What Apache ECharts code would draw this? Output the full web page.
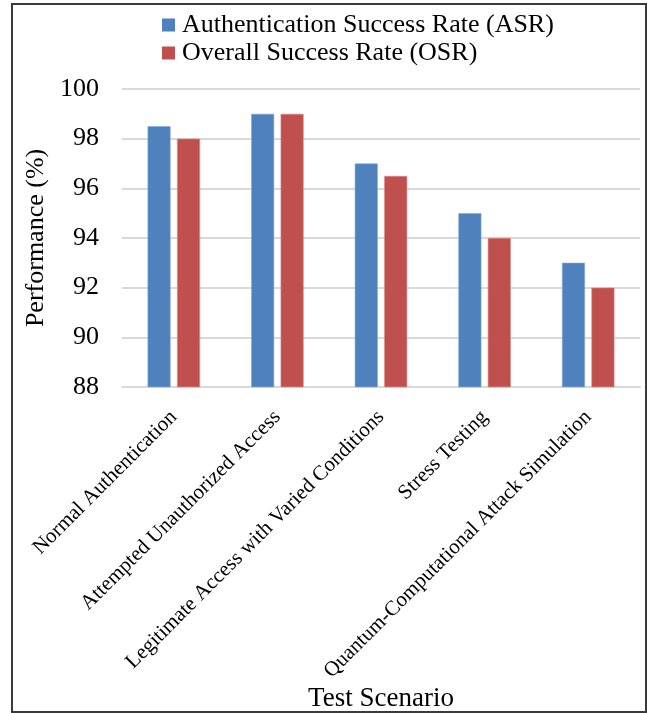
<!DOCTYPE html>
<html>
<head>
<meta charset="utf-8">
<script src="https://cdn.jsdelivr.net/npm/echarts@6/dist/echarts.min.js"></script>
<style>
  html, body { margin: 0; padding: 0; background: #fff; }
  #frame { position: absolute; left: 11px; top: 3px; width: 632px; height: 706px; border: 2px solid #3a3a3a; }
  #chart { position: absolute; left: 0; top: 0; width: 647px; height: 713px; }
</style>
</head>
<body>
<div id="frame"></div>
<div id="chart"></div>
<script>
// Test scenarios on the category axis
const categories = [
  'Normal Authentication',
  'Attempted Unauthorized Access',
  'Legitimate Access with Varied Conditions',
  'Stress Testing',
  'Quantum-Computational Attack Simulation'
];
// Success rates (%) per scenario
const asrValues = [98.5, 99, 97, 95, 93];
const osrValues = [98, 99, 96.5, 94, 92];
const seriesNames = ['Authentication Success Rate (ASR)', 'Overall Success Rate (OSR)'];
const yTicks = [88, 90, 92, 94, 96, 98, 100];

const serif = '"Liberation Serif", "Times New Roman", serif';
const chart = echarts.init(document.getElementById('chart'), null, { renderer: 'canvas' });

chart.setOption({
  animation: false,
  backgroundColor: 'transparent',
  legend: {
    orient: 'vertical',
    left: 157,
    top: 7,
    itemWidth: 13,
    itemHeight: 13,
    itemGap: 2,
    icon: 'rect',
    itemStyle: { borderWidth: 0 },
    textStyle: { fontFamily: serif, fontSize: 26, color: '#000', padding: [0, 0, 0, 2] },
    data: seriesNames
  },
  grid: { left: 122, right: 7, top: 89, bottom: 321, containLabel: false },
  xAxis: {
    type: 'category',
    data: categories,
    name: 'Test Scenario',
    nameLocation: 'middle',
    nameGap: 294,
    nameTextStyle: { fontFamily: serif, fontSize: 27, color: '#000' },
    axisLine: { lineStyle: { color: '#d9d9d9', width: 2 } },
    axisTick: { show: false },
    axisLabel: {
      rotate: 45,
      interval: 0,
      margin: 27,
      fontFamily: serif,
      fontSize: 21,
      color: '#000'
    }
  },
  yAxis: {
    type: 'value',
    min: yTicks[0],
    max: yTicks[yTicks.length - 1],
    interval: 2,
    name: 'Performance (%)',
    nameLocation: 'middle',
    nameGap: 69,
    nameTextStyle: { fontFamily: serif, fontSize: 26, color: '#000' },
    axisLine: { show: false },
    axisTick: { show: false },
    axisLabel: { margin: 23, fontFamily: serif, fontSize: 26, color: '#000' },
    splitLine: { lineStyle: { color: '#d9d9d9', width: 2 } }
  },
  series: [
    {
      name: seriesNames[0],
      type: 'bar',
      data: asrValues,
      barWidth: 23,
      barGap: '28%',
      itemStyle: { color: '#4f81bd', borderColor: '#86a8d6', borderWidth: 0.6 }
    },
    {
      name: seriesNames[1],
      type: 'bar',
      data: osrValues,
      barWidth: 23,
      barGap: '28%',
      itemStyle: { color: '#c0504d', borderColor: '#d98a88', borderWidth: 0.6 }
    }
  ]
});
</script>
</body>
</html>
